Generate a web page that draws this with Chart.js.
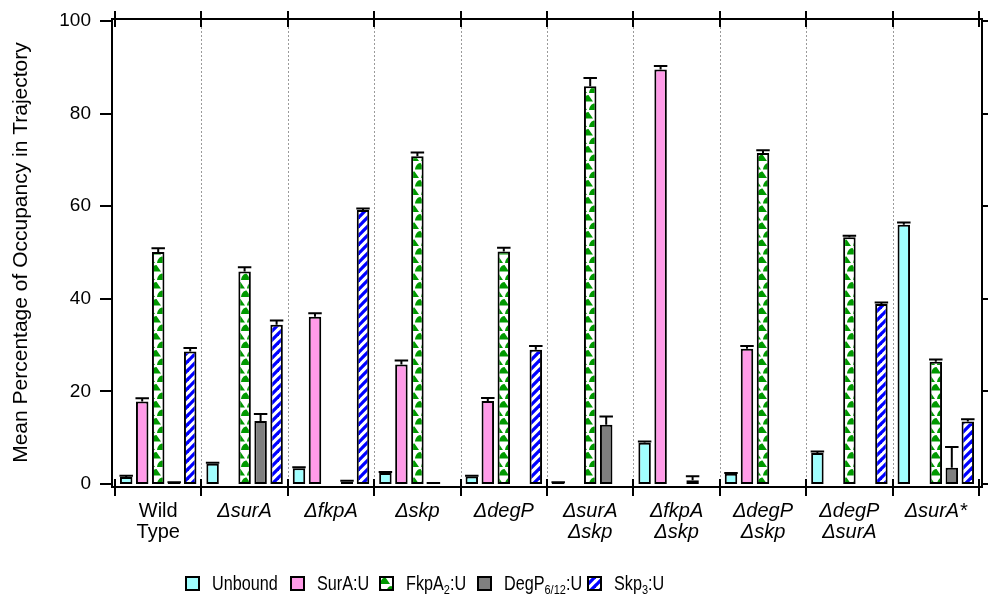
<!DOCTYPE html>
<html>
<head>
<meta charset="utf-8">
<script src="https://cdn.jsdelivr.net/npm/chart.js@4.4.1/dist/chart.umd.min.js"></script>
<style>
  html, body { margin: 0; padding: 0; background: #fff; }
  #wrap { position: relative; width: 988px; height: 596px; }
  #legend { position: absolute; left: 0; top: 575px; width: 988px; height: 17px;
            font-family: "Liberation Sans", Arial, sans-serif; color: #000; }
  .item { position: absolute; top: 0; height: 17px; display: flex; align-items: center; white-space: nowrap; }
  .item canvas { display: block; }
  .item span { display: inline-block; margin-left: 12px; font-size: 19.5px; line-height: 17px;
               transform: scaleX(0.83); transform-origin: left center; }
  .item sub { font-size: 0.68em; vertical-align: -0.3em; line-height: 0; }
</style>
</head>
<body>
<div id="wrap">
  <canvas id="chart" width="988" height="596"></canvas>
  <div id="legend"></div>
</div>
<script>
// Strains (x categories), one array entry per label line
const categories = [
  ["Wild", "Type"], ["ΔsurA"], ["ΔfkpA"], ["Δskp"], ["ΔdegP"],
  ["ΔsurA", "Δskp"], ["ΔfkpA", "Δskp"], ["ΔdegP", "Δskp"], ["ΔdegP", "ΔsurA"], ["ΔsurA*"]
];

// Mean occupancy (%) per state; null = chaperone deleted in that strain
const unbound    = [1.5, 4.4, 3.4, 2.4, 1.6, 0.3, 8.9, 2.2, 6.7, 56.0];
const unboundErr = [0.3, 0.2, 0.2, 0.2, 0.2, 0.1, 0.3, 0.2, 0.3, 0.5];

const surA    = [17.8, null, 36.1, 25.8, 17.9, null, 89.5, 29.2, null, null];
const surAErr = [0.7, 0, 0.8, 0.9, 0.7, 0, 0.8, 0.6, 0, 0];

const fkpA    = [50.1, 45.9, null, 70.8, 50.2, 85.9, null, 71.5, 53.3, 26.4];
const fkpAErr = [0.8, 0.9, 0, 0.8, 0.8, 1.8, 0, 0.6, 0.3, 0.5];

const degP    = [0.3, 13.6, 0.5, 0.1, null, 12.8, 0.8, null, null, 3.5];
const degPErr = [0.1, 1.5, 0.2, 0.1, 0, 1.8, 0.9, 0, 0, 4.5];

const skp    = [28.6, 34.4, 59.2, null, 29.0, null, null, null, 38.9, 13.5];
const skpErr = [0.8, 0.9, 0.3, 0, 0.8, 0, 0, 0, 0.3, 0.5];

// Legend names (HTML, with subscripts)
const seriesNames = ["Unbound", "SurA:U", "FkpA<sub>2</sub>:U", "DegP<sub>6/12</sub>:U", "Skp<sub>3</sub>:U"];

// y-axis ticks
const yTicks = [0, 20, 40, 60, 80, 100];

// ---------- fill patterns ----------
function fkpaTile() {
  const t = document.createElement('canvas');
  t.width = 12; t.height = 17;
  const c = t.getContext('2d');
  c.fillStyle = '#fff'; c.fillRect(0, 0, 12, 17);
  c.fillStyle = '#009900';
  const hump = (cx, base) => {
    c.beginPath();
    c.moveTo(cx - 5, base);
    c.bezierCurveTo(cx - 4.5, base - 4.5, cx - 1.5, base - 6.5, cx + 0.5, base - 6.5);
    c.lineTo(cx + 5, base);
    c.closePath();
    c.fill();
  };
  hump(6, 8);
  hump(0, 16.5);
  hump(12, 16.5);
  hump(0, -0.5);
  hump(12, -0.5);
  return t;
}
function skpTile() {
  const t = document.createElement('canvas');
  t.width = 9; t.height = 9;
  const c = t.getContext('2d');
  c.fillStyle = '#fff'; c.fillRect(0, 0, 9, 9);
  c.strokeStyle = '#0000ff'; c.lineWidth = 3.3;
  [0, 9, 18].forEach(k => {
    c.beginPath(); c.moveTo(k + 11, -11); c.lineTo(k - 11, 11); c.stroke();
  });
  return t;
}

const canvas = document.getElementById('chart');
const ctx = canvas.getContext('2d');
const fkpaFill = ctx.createPattern(fkpaTile(), 'repeat');
const skpFill = ctx.createPattern(skpTile(), 'repeat');

const fills = ['#a0ffff', '#ff9be8', fkpaFill, '#7f7f7f', skpFill];

// ---------- plugins ----------
const errorBars = {
  id: 'errorBars',
  afterDatasetsDraw(chart) {
    const { ctx, scales: { y } } = chart;
    ctx.save();
    ctx.strokeStyle = '#000';
    ctx.lineWidth = 2;
    chart.data.datasets.forEach((ds, i) => {
      const meta = chart.getDatasetMeta(i);
      meta.data.forEach((bar, j) => {
        const v = ds.data[j], e = ds.errors[j];
        if (v == null || !e) return;
        const yTop = y.getPixelForValue(v + e);
        const half = bar.width / 2 + 0.5;
        ctx.beginPath();
        ctx.moveTo(bar.x, bar.y);
        ctx.lineTo(bar.x, yTop);
        ctx.moveTo(bar.x - half, yTop);
        ctx.lineTo(bar.x + half, yTop);
        ctx.stroke();
      });
    });
    ctx.restore();
  }
};

const frame = {
  id: 'frame',
  beforeDatasetsDraw(chart) {
    const { ctx, chartArea: a, scales: { x } } = chart;
    const n = x.getLabels().length;
    const step = (a.right - a.left) / n;
    ctx.save();
    ctx.strokeStyle = '#9a9a9a';
    ctx.lineWidth = 1;
    ctx.setLineDash([2, 2]);
    for (let i = 1; i < n; i++) {
      const px = Math.round(x.getPixelForValue(i) - step / 2) + 0.5;
      ctx.beginPath();
      ctx.moveTo(px, a.top - 2);
      ctx.lineTo(px, a.bottom + 3);
      ctx.stroke();
    }
    ctx.restore();
  },
  afterDraw(chart) {
    const { ctx, chartArea: a, scales: { x, y } } = chart;
    const n = x.getLabels().length;
    const step = (a.right - a.left) / n;
    const L = a.left - 3, R = a.right + 3, T = a.top - 2, B = a.bottom + 3;
    ctx.save();
    ctx.strokeStyle = '#000';
    ctx.lineWidth = 2;
    ctx.beginPath();
    ctx.moveTo(L, T); ctx.lineTo(R, T);
    ctx.moveTo(L, B); ctx.lineTo(R, B);
    ctx.moveTo(L, T - 1); ctx.lineTo(L, B + 1);
    ctx.moveTo(R, T - 1); ctx.lineTo(R, B + 1);
    ctx.stroke();
    // value ticks, outward on both sides
    ctx.beginPath();
    y.ticks.forEach(t => {
      const py = Math.round(y.getPixelForValue(t.value));
      ctx.moveTo(L - 12, py); ctx.lineTo(L, py);
      ctx.moveTo(R, py); ctx.lineTo(R + 8, py);
    });
    // category boundary ticks crossing top and bottom lines
    for (let i = 0; i <= n; i++) {
      const px = Math.round(x.getPixelForValue(0) - step / 2 + i * step);
      ctx.moveTo(px, T - 8); ctx.lineTo(px, T + 8);
      ctx.moveTo(px, B - 8); ctx.lineTo(px, B + 9);
    }
    ctx.stroke();
    ctx.restore();
  }
};

// ---------- chart ----------
const values = [unbound, surA, fkpA, degP, skp];
const errors = [unboundErr, surAErr, fkpAErr, degPErr, skpErr];

const datasets = values.map((v, i) => ({
  label: seriesNames[i].replace(/<[^>]+>/g, ''),
  data: v,
  errors: errors[i],
  backgroundColor: fills[i],
  borderColor: '#000',
  borderWidth: 2,
  borderSkipped: false,
  barPercentage: 0.78,
  categoryPercentage: 0.926
}));

const FONT = '"Liberation Sans", Arial, Helvetica, sans-serif';

new Chart(canvas, {
  type: 'bar',
  data: { labels: categories, datasets },
  options: {
    responsive: false,
    animation: false,
    layout: { padding: { top: 21, right: 9, left: 0, bottom: 0 } },
    plugins: { legend: { display: false }, tooltip: { enabled: false } },
    scales: {
      x: {
        grid: { display: false },
        border: { display: false },
        ticks: {
          color: '#000',
          autoSkip: false,
          maxRotation: 0,
          padding: 8.5,
          font: (c) => ({ family: FONT, size: 20, lineHeight: 1.05,
                           style: c.index === 0 ? 'normal' : 'italic' })
        },
        afterFit: (s) => { s.height = 112; s.paddingLeft = 0; s.paddingRight = 0; }
      },
      y: {
        min: 0,
        max: 100,
        grid: { display: false },
        border: { display: false },
        afterBuildTicks: (s) => { s.ticks = yTicks.map(v => ({ value: v })); },
        ticks: { color: '#000', padding: 16, font: { family: FONT, size: 19 } },
        title: {
          display: true,
          text: 'Mean Percentage of Occupancy in Trajectory',
          color: '#000',
          font: { family: FONT, size: 21, lineHeight: 1.2 },
          padding: { top: 9, bottom: 0 }
        },
        afterFit: (s) => { s.width = 115; s.paddingTop = 0; s.paddingBottom = 0; }
      }
    }
  },
  plugins: [frame, errorBars]
});

// ---------- legend ----------
const legendLeft = [185, 290, 379, 477, 587];
const legend = document.getElementById('legend');
seriesNames.forEach((name, i) => {
  const item = document.createElement('div');
  item.className = 'item';
  item.style.left = legendLeft[i] + 'px';
  const sw = document.createElement('canvas');
  sw.width = 15; sw.height = 15;
  const sc = sw.getContext('2d');
  sc.fillStyle = typeof fills[i] === 'string' ? fills[i]
    : sc.createPattern(i === 2 ? fkpaTile() : skpTile(), 'repeat');
  sc.fillRect(1, 1, 13, 13);
  sc.strokeStyle = '#000'; sc.lineWidth = 2;
  sc.strokeRect(1, 1, 13, 13);
  const txt = document.createElement('span');
  txt.innerHTML = name;
  item.appendChild(sw);
  item.appendChild(txt);
  legend.appendChild(item);
});
</script>
</body>
</html>
